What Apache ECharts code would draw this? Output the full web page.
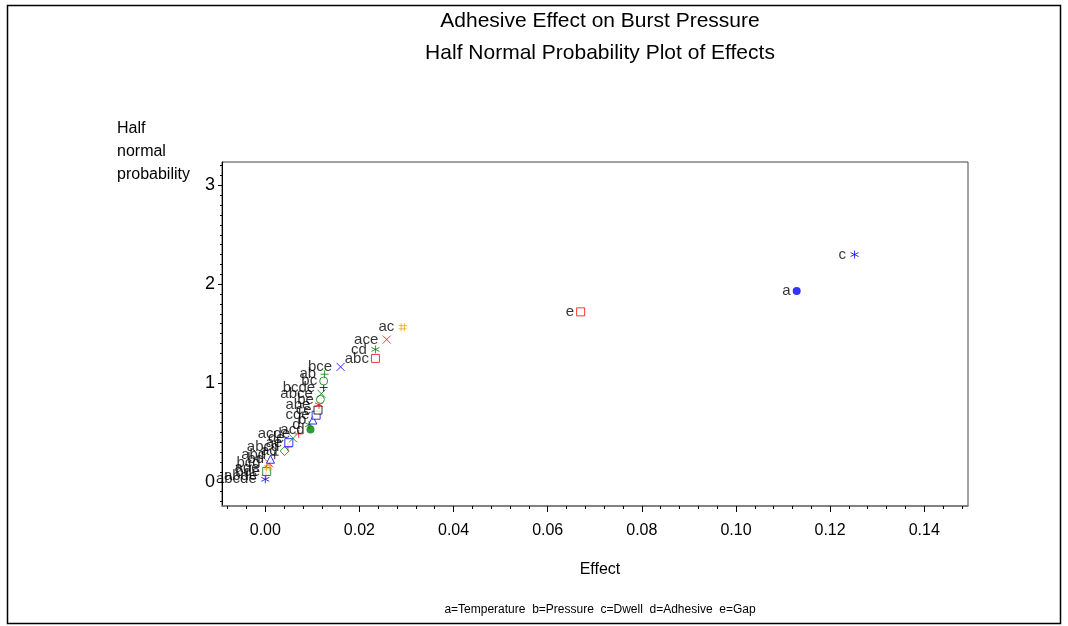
<!DOCTYPE html>
<html>
<head>
<meta charset="utf-8">
<script src="https://cdn.jsdelivr.net/npm/echarts@6/dist/echarts.min.js"></script>
<style>
html,body{margin:0;padding:0;background:#fff;}
#chart{width:1068px;height:626px;}
</style>
</head>
<body>
<div id="chart"></div>
<script>
// ---------------- data ----------------
const effectNames = ['abcde','abde','bde','ade','bcd','bd','abd','ad','abcd','ae','de','acde','acd','d','b','cde','ce','abe','be','abce','bcde','bc','ab','bce','abc','cd','ace','ac','e','a','c'];
const effectValues = [0.0000,0.0001,0.0003,0.0006,0.0008,0.0011,0.0020,0.0041,0.0048,0.0050,0.0059,0.0071,0.0096,0.0093,0.0101,0.0108,0.0112,0.0114,0.0117,0.0119,0.0124,0.0124,0.0126,0.0160,0.0234,0.0234,0.0258,0.0292,0.0670,0.1129,0.1252];
const halfNormalProb = [0.025,0.065,0.105,0.146,0.187,0.228,0.269,0.311,0.353,0.396,0.440,0.485,0.530,0.577,0.625,0.674,0.726,0.779,0.834,0.892,0.954,1.020,1.089,1.163,1.249,1.340,1.440,1.565,1.720,1.930,2.300];
const xTickValues = [0.00,0.02,0.04,0.06,0.08,0.10,0.12,0.14];
const yTickValues = [0,1,2,3];
const titleLines = ['Adhesive Effect on Burst Pressure','Half Normal Probability Plot of Effects'];
const yAxisTitle = 'Half\nnormal\nprobability';
const xAxisTitle = 'Effect';
const footnoteText = 'a=Temperature  b=Pressure  c=Dwell  d=Adhesive  e=Gap';

// ---------------- styles (per point marker kind) ----------------
const markerKinds = ['star:blue','plus:red','square:green','hash:orange','x:red','tri:blue','plus:black','diamond:green',
 'plus:red','square:blue','x:green','plus:red','dot:green','star:green','tri:blue','square:blue','square:black',
 'star:red','circle:green','x:green','plus:black','circle:green','plus:green','x:blue','square:red','star:green',
 'x:red','hash:orange','square:red','dot:blue','star:blue'];
const colorMap = {blue:'#0000ff',red:'#ff0000',green:'#008000',orange:'#ffa500',black:'#000000'};
const pathMap = {
  star:'path://M5,0L5,10M0.67,2.5L9.33,7.5M0.67,7.5L9.33,2.5',
  x:'path://M0,0L10,10M0,10L10,0',
  plus:'path://M5,0L5,10M0,5L10,5',
  hash:'path://M3,0L3,10M7,0L7,10M0,3L10,3M0,7L10,7'
};
function itemFor(i){
  const [kind,col] = markerKinds[i].split(':');
  const c = colorMap[col];
  const item = {value:[effectValues[i], halfNormalProb[i]], name:effectNames[i]};
  if (pathMap[kind]) {
    item.symbol = pathMap[kind]; item.symbolSize = 8;
    item.itemStyle = {color:'none', borderColor:c, borderWidth:1};
  } else if (kind==='dot') {
    item.symbol='circle'; item.symbolSize=8; item.itemStyle={color:c};
  } else if (kind==='square') {
    item.symbol='rect'; item.symbolSize=8; item.itemStyle={color:'#fff', borderColor:c, borderWidth:1};
  } else if (kind==='circle') {
    item.symbol='circle'; item.symbolSize=8; item.itemStyle={color:'#fff', borderColor:c, borderWidth:1};
  } else if (kind==='tri') {
    item.symbol='triangle'; item.symbolSize=8; item.itemStyle={color:'#fff', borderColor:c, borderWidth:1};
  } else if (kind==='diamond') {
    item.symbol='diamond'; item.symbolSize=9; item.itemStyle={color:'#fff', borderColor:c, borderWidth:1};
  }
  return item;
}
const points = effectValues.map((v,i)=>itemFor(i));

const xMin = -0.0092, xMax = 0.1493, yMin = -0.245, yMax = 3.237;
const xMinor = []; for (let k=-2;k<=37;k++){ const v=+(k*0.004).toFixed(4); if(v>xMin && v<xMax && Math.abs(v/0.02-Math.round(v/0.02))>1e-6) xMinor.push(v); }
const yMinor = []; for (let k=-2;k<=32;k++){ const v=+(k*0.1).toFixed(2); if(v>yMin && v<yMax && Math.abs(v-Math.round(v))>1e-6) yMinor.push(v); }

const FONT = 'Liberation Sans, Arial, Helvetica, sans-serif';
const chart = echarts.init(document.getElementById('chart'), null, {renderer:'canvas'});
chart.setOption({
  animation:false,
  backgroundColor:'#fff',
  textStyle:{fontFamily:FONT},
  title:[
    {text:titleLines[0], left:595, top:6, textAlign:'center', textStyle:{fontFamily:FONT,fontSize:21,fontWeight:'normal',color:'#000'}},
    {text:titleLines[1], left:595, top:38, textAlign:'center', textStyle:{fontFamily:FONT,fontSize:21,fontWeight:'normal',color:'#000'}},
    {text:xAxisTitle, left:595, top:557, textAlign:'center', textStyle:{fontFamily:FONT,fontSize:16,fontWeight:'normal',color:'#000'}},
    {text:footnoteText, left:595, top:599, textAlign:'center', textStyle:{fontFamily:FONT,fontSize:12,fontWeight:'normal',color:'#000'}},
    {text:yAxisTitle, left:112, top:112, textStyle:{fontFamily:FONT,fontSize:16,fontWeight:'normal',color:'#000',lineHeight:23}}
  ],
  grid:{left:222, right:100, top:162, bottom:120, show:true, borderColor:'#444', borderWidth:1, backgroundColor:'transparent'},
  xAxis:[
    {type:'value', min:xMin, max:xMax, splitLine:{show:false},
     axisLine:{show:true, lineStyle:{color:'#777', width:1.5}, onZero:false},
     axisTick:{show:true, customValues:xTickValues, length:6, lineStyle:{color:'#000'}},
     axisLabel:{show:true, customValues:xTickValues, formatter:v=>v.toFixed(2), fontFamily:FONT, fontSize:16, color:'#000', margin:17}},
    {type:'value', min:xMin, max:xMax, position:'bottom', splitLine:{show:false},
     axisLine:{show:false, onZero:false},
     axisTick:{show:true, customValues:xMinor, length:3, lineStyle:{color:'#000'}},
     axisLabel:{show:false}}
  ],
  yAxis:[
    {type:'value', min:yMin, max:yMax, splitLine:{show:false},
     axisLine:{show:true, lineStyle:{color:'#000', width:1}, onZero:false},
     axisTick:{show:true, customValues:yTickValues, length:4, lineStyle:{color:'#000'}},
     axisLabel:{show:true, customValues:yTickValues, fontFamily:FONT, fontSize:18, color:'#000', margin:7}},
    {type:'value', min:yMin, max:yMax, position:'left', splitLine:{show:false},
     axisLine:{show:false, onZero:false},
     axisTick:{show:true, customValues:yMinor, length:2, lineStyle:{color:'#000'}},
     axisLabel:{show:false}}
  ],
  graphic:[
    {type:'rect', shape:{x:7.5,y:5.5,width:1053,height:618}, style:{fill:'none', stroke:'#000', lineWidth:1.5}, silent:true}
  ],
  series:[{
    type:'scatter', xAxisIndex:0, yAxisIndex:0,
    data:points,
    label:{show:true, position:'left', distance:2, offset:[0,4], formatter:p=>p.name, fontFamily:FONT, fontSize:15, color:'#000'},
    labelLayout:{hideOverlap:false}
  }]
});
</script>
</body>
</html>
